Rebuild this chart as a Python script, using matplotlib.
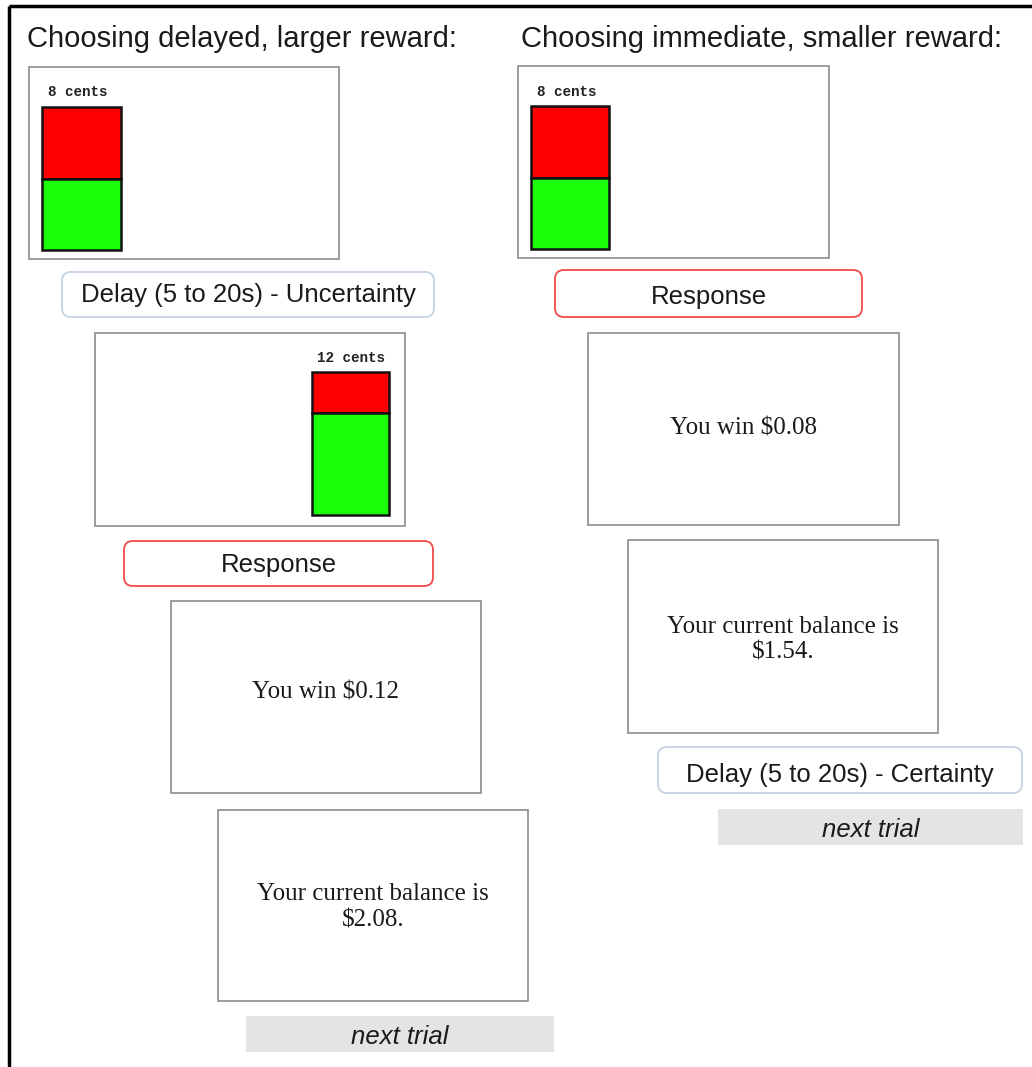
import matplotlib.pyplot as plt
from matplotlib.patches import Rectangle, FancyBboxPatch

# Content of the trial diagram
choice_titles = ['Choosing delayed, larger reward:', 'Choosing immediate, smaller reward:']
offer_cents = [8, 12, 8]            # left offer, left delayed offer, right offer
offer_red_fraction = [0.5, 0.29, 0.5]
win_amounts = [0.12, 0.08]
balances = [2.08, 1.54]
delay_labels = ['Delay (5 to 20s) - Uncertainty', 'Delay (5 to 20s) - Certainty']
response_label = 'Response'
next_label = 'next trial'

# Layout (pixel coordinates, y grows downwards; text y values are baselines)
title_pos = [(27, 47), (521, 47)]
offer_screens = [(29, 67, 310, 192), (95, 333, 310, 193), (518, 66, 311, 192)]
offer_bars = [(42, 107, 79, 143), (312, 372, 77, 143), (531, 106, 78, 143)]
offer_label_pos = [(78, 96), (351, 362), (567, 96)]
delay_boxes = [(62, 272, 372, 45), (658, 747, 364, 46)]
delay_base = [302, 782]
response_boxes = [(124, 541, 309, 45), (555, 270, 307, 47)]
response_base = [572, 304]
win_screens = [(171, 601, 310, 192), (588, 333, 311, 192)]
win_base = [698, 434]
balance_screens = [(218, 810, 310, 191), (628, 540, 310, 193)]
balance_base = [(900, 927), (633, 659)]
next_boxes = [(246, 1016, 308, 36), (718, 809, 305, 36)]
next_base = [1044, 837]

fig = plt.figure(figsize=(10.32, 10.67), dpi=100)
ax = fig.add_axes([0, 0, 1, 1])
ax.set_xlim(0, 1032)
ax.set_ylim(1067, 0)
ax.axis('off')

sans = 'Liberation Sans'
serif = 'Liberation Serif'
mono = 'Liberation Mono'
ink = '#1a1a1a'

# Outer frame (top and left only)
ax.plot([9, 1032], [6, 6], color='black', lw=2.5, solid_capstyle='butt')
ax.plot([9, 9], [6, 1067], color='black', lw=2.5, solid_capstyle='butt')

for (x, y), t in zip(title_pos, choice_titles):
    ax.text(x, y, t, fontsize=21, family=sans, color=ink, va='baseline', ha='left')


def screen(x, y, w, h):
    ax.add_patch(Rectangle((x, y), w, h, facecolor='white', edgecolor='#8c8c8c', lw=1.2))


def rounded(x, y, w, h, edge, face='white'):
    ax.add_patch(FancyBboxPatch((x, y), w, h, boxstyle='round,pad=0,rounding_size=9',
                                facecolor=face, edgecolor=edge, lw=1.3))


# Offer screens with stacked bars
for i in range(len(offer_cents)):
    screen(*offer_screens[i])
    bx, by, bw, bh = offer_bars[i]
    red_h = bh * offer_red_fraction[i]
    ax.add_patch(Rectangle((bx, by), bw, red_h, facecolor='#ff0000', edgecolor='#111111', lw=1.8))
    ax.add_patch(Rectangle((bx, by + red_h), bw, bh - red_h, facecolor='#1aff0a', edgecolor='#111111', lw=1.8))
    lx, ly = offer_label_pos[i]
    ax.text(lx, ly, str(offer_cents[i]) + ' cents', fontsize=10.3, family=mono, weight='bold',
            color='#222222', ha='center', va='baseline')

# Delay boxes
for (x, y, w, h), t, b in zip(delay_boxes, delay_labels, delay_base):
    rounded(x, y, w, h, '#c5d2e6')
    ax.text(x + w / 2, b, t, fontsize=18.5, family=sans, color=ink, ha='center', va='baseline')

# Response boxes
for (x, y, w, h), b in zip(response_boxes, response_base):
    rounded(x, y, w, h, '#f04a4a')
    ax.text(x + w / 2, b, response_label, fontsize=18.5, family=sans, color=ink,
            ha='center', va='baseline')

# Win screens
for (x, y, w, h), amt, b in zip(win_screens, win_amounts, win_base):
    screen(x, y, w, h)
    ax.text(x + w / 2, b, 'You win $%.2f' % amt, fontsize=18, family=serif,
            color=ink, ha='center', va='baseline')

# Balance screens
for (x, y, w, h), bal, (b1, b2) in zip(balance_screens, balances, balance_base):
    screen(x, y, w, h)
    ax.text(x + w / 2, b1, 'Your current balance is', fontsize=18, family=serif,
            color=ink, ha='center', va='baseline')
    ax.text(x + w / 2, b2, '$%.2f.' % bal, fontsize=18, family=serif,
            color=ink, ha='center', va='baseline')

# Next trial bars
for (x, y, w, h), b in zip(next_boxes, next_base):
    ax.add_patch(Rectangle((x, y), w, h, facecolor='#e4e4e4', edgecolor='none'))
    ax.text(x + w / 2, b, next_label, fontsize=18.5, family=sans, style='italic',
            color=ink, ha='center', va='baseline')

fig.savefig('out.png', dpi=100)
